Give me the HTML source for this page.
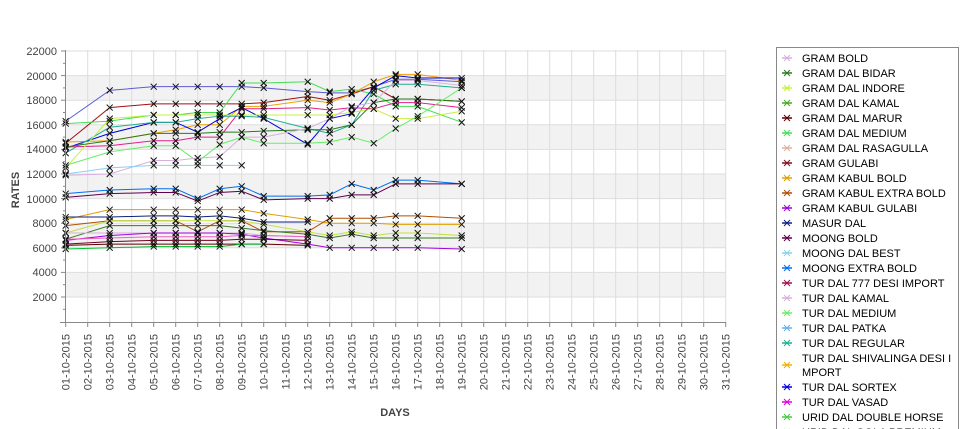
<!DOCTYPE html>
<html><head><meta charset="utf-8"><style>
html,body{margin:0;padding:0;background:#fff;width:975px;height:429px;overflow:hidden}
svg{display:block;font-family:"Liberation Sans","DejaVu Sans",sans-serif}
</style></head><body>
<svg id="c" width="975" height="429" viewBox="0 0 975 429">
<g id="bands"></g>
<g id="grid"></g>
<g id="series"></g>
<line x1="65.5" y1="50" x2="65.5" y2="322" stroke="#888"/>
<line x1="60" y1="322.5" x2="726" y2="322.5" stroke="#888"/>
<g font-size="11" fill="#444" text-anchor="end">
<text x="57" y="55">22000</text><text x="57" y="80">20000</text><text x="57" y="104">18000</text>
<text x="57" y="129">16000</text><text x="57" y="153">14000</text><text x="57" y="178">12000</text>
<text x="57" y="203">10000</text><text x="57" y="227">8000</text><text x="57" y="252">6000</text>
<text x="57" y="276">4000</text><text x="57" y="301">2000</text>
</g>
<text transform="translate(19,190) rotate(-90)" font-size="11" font-weight="bold" fill="#444" text-anchor="middle">RATES</text>
<text x="395" y="416" font-size="11" font-weight="bold" fill="#444" text-anchor="middle">DAYS</text>
<g id="xl" font-size="11" fill="#444" text-anchor="end">
<text transform="translate(69.7,334) rotate(-90)">01-10-2015</text>
<text transform="translate(91.7,334) rotate(-90)">02-10-2015</text>
<text transform="translate(113.7,334) rotate(-90)">03-10-2015</text>
<text transform="translate(135.7,334) rotate(-90)">04-10-2015</text>
<text transform="translate(157.7,334) rotate(-90)">05-10-2015</text>
<text transform="translate(179.7,334) rotate(-90)">06-10-2015</text>
<text transform="translate(201.7,334) rotate(-90)">07-10-2015</text>
<text transform="translate(223.7,334) rotate(-90)">08-10-2015</text>
<text transform="translate(245.7,334) rotate(-90)">09-10-2015</text>
<text transform="translate(267.7,334) rotate(-90)">10-10-2015</text>
<text transform="translate(289.7,334) rotate(-90)">11-10-2015</text>
<text transform="translate(311.7,334) rotate(-90)">12-10-2015</text>
<text transform="translate(333.7,334) rotate(-90)">13-10-2015</text>
<text transform="translate(355.7,334) rotate(-90)">14-10-2015</text>
<text transform="translate(377.7,334) rotate(-90)">15-10-2015</text>
<text transform="translate(399.7,334) rotate(-90)">16-10-2015</text>
<text transform="translate(421.7,334) rotate(-90)">17-10-2015</text>
<text transform="translate(443.7,334) rotate(-90)">18-10-2015</text>
<text transform="translate(465.7,334) rotate(-90)">19-10-2015</text>
<text transform="translate(487.7,334) rotate(-90)">20-10-2015</text>
<text transform="translate(509.7,334) rotate(-90)">21-10-2015</text>
<text transform="translate(531.7,334) rotate(-90)">22-10-2015</text>
<text transform="translate(553.7,334) rotate(-90)">23-10-2015</text>
<text transform="translate(575.7,334) rotate(-90)">24-10-2015</text>
<text transform="translate(597.7,334) rotate(-90)">25-10-2015</text>
<text transform="translate(619.7,334) rotate(-90)">26-10-2015</text>
<text transform="translate(641.7,334) rotate(-90)">27-10-2015</text>
<text transform="translate(663.7,334) rotate(-90)">28-10-2015</text>
<text transform="translate(685.7,334) rotate(-90)">29-10-2015</text>
<text transform="translate(707.7,334) rotate(-90)">30-10-2015</text>
<text transform="translate(729.7,334) rotate(-90)">31-10-2015</text>
</g>
<rect x="776.5" y="47.5" width="182" height="400" fill="#fff" stroke="#888"/>
<g id="lm"></g>
<g font-size="11" fill="#000">
<text x="802" y="62">GRAM BOLD</text>
<text x="802" y="77">GRAM DAL BIDAR</text>
<text x="802" y="92">GRAM DAL INDORE</text>
<text x="802" y="107">GRAM DAL KAMAL</text>
<text x="802" y="122">GRAM DAL MARUR</text>
<text x="802" y="137">GRAM DAL MEDIUM</text>
<text x="802" y="152">GRAM DAL RASAGULLA</text>
<text x="802" y="167">GRAM GULABI</text>
<text x="802" y="182">GRAM KABUL BOLD</text>
<text x="802" y="197">GRAM KABUL EXTRA BOLD</text>
<text x="802" y="212">GRAM KABUL GULABI</text>
<text x="802" y="227">MASUR DAL</text>
<text x="802" y="242">MOONG BOLD</text>
<text x="802" y="257">MOONG DAL BEST</text>
<text x="802" y="272">MOONG EXTRA BOLD</text>
<text x="802" y="287">TUR DAL  777 DESI IMPORT</text>
<text x="802" y="302">TUR DAL KAMAL</text>
<text x="802" y="317">TUR DAL MEDIUM</text>
<text x="802" y="332">TUR DAL PATKA</text>
<text x="802" y="347">TUR DAL REGULAR</text>
<text x="802" y="362">TUR DAL SHIVALINGA DESI I</text>
<text x="802" y="376">MPORT</text>
<text x="802" y="391">TUR DAL SORTEX</text>
<text x="802" y="406">TUR DAL VASAD</text>
<text x="802" y="421">URID DAL DOUBLE HORSE</text>
<text x="802" y="436">URID DAL GOLA PREMIUM</text>
</g>
</svg>
<script>
var NS="http://www.w3.org/2000/svg";
function el(p,t,a){var e=document.createElementNS(NS,t);for(var k in a)e.setAttribute(k,a[k]);p.appendChild(e);return e;}
function Y(v){return 321.6-v*0.0123;}
function X(d){return 65.7+(d-1)*22;}
var bands=document.getElementById('bands'),grid=document.getElementById('grid');
[2000,6000,10000,14000,18000].forEach(function(v){el(bands,'rect',{x:66,y:Y(v+2000),width:660,height:Y(v)-Y(v+2000),fill:'#f2f2f2'});});
for(var d=2;d<=31;d++)el(grid,'line',{x1:X(d),y1:50,x2:X(d),y2:322,stroke:'#ddd','stroke-width':1});
for(var v=2000;v<=22000;v+=2000){el(grid,'line',{x1:66,y1:Y(v),x2:726,y2:Y(v),stroke:'#ddd'});el(grid,'line',{x1:61,y1:Y(v),x2:66,y2:Y(v),stroke:'#888'});el(grid,'line',{x1:63,y1:Y(v-1000),x2:66,y2:Y(v-1000),stroke:'#888'});}
for(var d=1;d<=31;d++)el(grid,'line',{x1:X(d),y1:322,x2:X(d),y2:327,stroke:'#888'});
var D=[1,3,5,6,7,8,9,10,12,13,14,15,16,17,19];
var S=[
['#5b5bd6',[16300,18800,19100,19100,19100,19100,19100,19000,18700,18600,18600,19100,19700,19700,19500]],
['#a01010',[14500,17400,17700,17700,17700,17700,17700,17800,18300,18000,18500,19100,18100,18100,17900]],
['#44dd55',[16100,16300,16800,16800,17000,17000,19400,19400,19500,18700,18900,18500,17500,17500,16200]],
['#f0a000',[14600,14700,15300,15600,16000,16000,17500,17500,18000,17800,18500,19500,20100,20100,19600]],
['#0000e0',[14100,15300,16200,16200,15400,16500,17400,16500,14400,16500,16900,19000,20000,19800,19800]],
['#20b090',[13700,15800,16200,16200,16500,16700,16700,16600,15700,15300,16000,18800,19300,19300,19000]],
['#e0208a',[14200,14300,14700,14700,15000,15000,17300,17300,17400,17200,17400,17300,17800,17800,17400]],
['#c8f040',[12500,16500,16800,16800,16800,16800,16800,16800,16800,16800,17000,17300,16500,16500,17100]],
['#2a7a20',[14200,14700,15300,15300,15300,15400,15400,15500,15600,15600,16000,17800,18100,18100,17900]],
['#66ee66',[12700,13800,14300,14300,13000,14400,15000,14500,14500,14600,15000,14500,15700,16700,19000]],
['#d8b0e0',[11900,12000,13100,13100,13300,13400,15000,15000,15700,16500,17500,17800,19600,19600,19200]],
['#8cd0f0',[12000,12500,12700,12700,12700,12700,12700]],
['#0070f0',[10400,10700,10800,10800,10000,10800,11000,10200,10200,10300,11200,10700,11500,11500,11200]],
['#600050',[10100,10400,10500,10500,9800,10500,10600,9900,10000,10000,10300,10300,11200,11200,11200]],
['#e0a000',[8300,9100,9100,9100,9100,9100,9100,8800,8300,8000,8000,8000,7900,7900,7900]],
['#102080',[8500,8500,8600,8600,8500,8600,8400,8100,8100]],
['#b05000',[7800,8200,8200,8200,7300,8200,8200,7300,7300,8400,8400,8400,8600,8600,8400]],
['#c0e040',[7200,8200,8200,8200,8200,8200,8200,7900,7300,7000,7300,7000,7200,7200,7000]],
['#3a7a2a',[6700,7800,7800,7800,7800,7800,7600,7400,7100,6800,7100,6800,6800,6800,6800]],
['#d8b0d8',[7200,7200,7200,7200,7200,7200,7200,7000,6900]],
['#a000e0',[6600,7000,7200,7200,7200,7200,7100,6800,6300,6000,6000,6000,6000,6000,5900]],
['#f060c0',[6700,6800,6900,6900,6900,6900,7000,7000,6900]],
['#700020',[6300,6500,6600,6600,6600,6600,6700,6700,6600]],
['#600000',[6200,6300,6300,6300,6300,6300,6300,6300,6200]],
['#00c030',[5900,6000,6100,6100,6100,6100,6300,6300]]
];
var g=document.getElementById('series');
S.forEach(function(s){var pts=s[1].map(function(v,i){return X(D[i])+','+Y(v);}).join(' ');el(g,'polyline',{points:pts,fill:'none',stroke:s[0],'stroke-width':1});});
S.forEach(function(s){s[1].forEach(function(v,i){var x=X(D[i]),y=Y(v);el(g,'path',{d:'M'+(x-3)+' '+(y-3)+'L'+(x+3)+' '+(y+3)+'M'+(x-3)+' '+(y+3)+'L'+(x+3)+' '+(y-3),stroke:'#111','stroke-width':1});});});
var LC=['#d8b0e0','#2a7a20','#c8f040','#44aa22','#600000','#44dd55','#e0b0a0','#801020','#e0a000','#b05000','#a000e0','#102080','#600050','#8cd0f0','#0070f0','#a01050','#d8b0d8','#66ee66','#60b0f0','#20b090','#f0b000','#0000e0','#e000e0','#44cc44','#00c030'];
var LY=[58,73,88,103,118,133,148,163,178,193,208,223,238,253,268,283,298,313,328,343,365,387,402,417,432];
var lm=document.getElementById('lm');
LC.forEach(function(c,i){var y=LY[i],x=787;el(lm,'line',{x1:x-5,y1:y,x2:x+5,y2:y,stroke:c,'stroke-width':1.5});el(lm,'path',{d:'M'+(x-3)+' '+(y-3)+'L'+(x+3)+' '+(y+3)+'M'+(x-3)+' '+(y+3)+'L'+(x+3)+' '+(y-3),stroke:c,'stroke-width':1});});
</script>
</body></html>
